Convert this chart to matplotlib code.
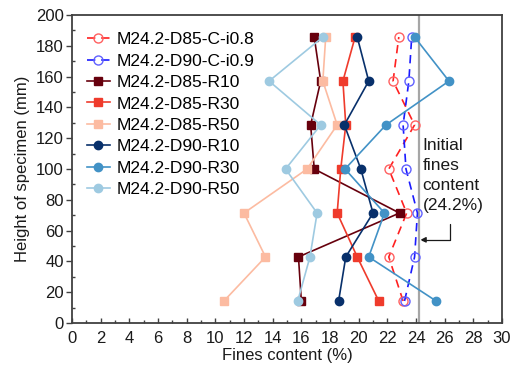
import matplotlib
matplotlib.use("Agg")
import matplotlib.pyplot as plt
from matplotlib.ticker import MultipleLocator

plt.rcParams['font.family'] = ['Liberation Sans', 'DejaVu Sans']

heights = [14.3, 42.9, 71.4, 100.0, 128.6, 157.1, 185.7]

d85_c = [23.1, 22.1, 23.35, 22.1, 23.9, 22.4, 22.8]
d90_c = [23.2, 23.9, 24.1, 23.3, 23.1, 23.5, 23.7]
d85_r10 = [16.0, 15.8, 22.85, 16.9, 16.65, 17.35, 16.9]
d85_r30 = [21.4, 19.9, 18.5, 18.75, 19.1, 18.9, 19.75]
d85_r50 = [10.6, 13.5, 12.0, 16.4, 18.5, 17.5, 17.7]
d90_r10 = [18.6, 19.1, 21.0, 20.15, 19.0, 20.7, 19.9]
d90_r30 = [25.4, 20.7, 21.8, 19.05, 21.9, 26.3, 23.9]
d90_r50 = [15.75, 16.6, 17.1, 14.9, 17.35, 13.75, 17.5]

initial_fines = 24.2

fig = plt.figure(figsize=(5.16, 3.67), dpi=100)
ax = fig.add_axes([0.1395, 0.1199, 0.8334, 0.8392])

lw = 1.2
ax.plot(d85_c, heights, ls=(0, (5, 3.5)), color='#ff2020', lw=lw, marker='o', ms=6.5,
        mfc='none', mec='#ff6060', mew=1.0, label='M24.2-D85-C-i0.8')
ax.plot(d90_c, heights, ls=(0, (5, 3.5)), color='#1a1aff', lw=lw, marker='o', ms=6.5,
        mfc='none', mec='#6060ff', mew=1.0, label='M24.2-D90-C-i0.9')
ax.plot(d85_r10, heights, color='#67000d', lw=lw, marker='s', ms=6, label='M24.2-D85-R10')
ax.plot(d85_r30, heights, color='#ef3b2c', lw=lw, marker='s', ms=6, label='M24.2-D85-R30')
ax.plot(d85_r50, heights, color='#fcbba1', lw=lw, marker='s', ms=6, label='M24.2-D85-R50')
ax.plot(d90_r10, heights, color='#08306b', lw=lw, marker='o', ms=6, label='M24.2-D90-R10')
ax.plot(d90_r30, heights, color='#4292c6', lw=lw, marker='o', ms=6, label='M24.2-D90-R30')
ax.plot(d90_r50, heights, color='#9ecae1', lw=lw, marker='o', ms=6, label='M24.2-D90-R50')

ax.axvline(initial_fines, color='#a6a6a6', lw=1.6, zorder=0)

ax.set_xlim(0, 30)
ax.set_ylim(0, 200)
ax.xaxis.set_major_locator(MultipleLocator(2))
ax.xaxis.set_minor_locator(MultipleLocator(1))
ax.yaxis.set_major_locator(MultipleLocator(20))
ax.yaxis.set_minor_locator(MultipleLocator(10))
ax.tick_params(which='both', colors='#404040', labelcolor='#1a1a1a',
               labelsize=12, top=False, right=False, width=1.0)
ax.tick_params(axis='x', which='major', direction='in', length=3.6, pad=6)
ax.tick_params(axis='x', which='minor', direction='in', length=2.0)
ax.tick_params(axis='y', which='major', direction='out', length=4.5, pad=1.5)
ax.tick_params(axis='y', which='minor', direction='in', length=2.4)
for s in ax.spines.values():
    s.set_color('#404040')
    s.set_linewidth(1.3)

ax.set_xlabel('Fines content (%)', fontsize=12, color='#1a1a1a', labelpad=1.5)
ax.set_ylabel('Height of specimen (mm)', fontsize=12, color='#1a1a1a', labelpad=4)

ax.text(24.45, 120, 'Initial\nfines\ncontent\n(24.2%)', fontsize=12.5, color='#1a1a1a',
        va='top', ha='left', linespacing=1.4)
ax.annotate('', xy=(24.3, 54), xytext=(26.4, 64.5),
            arrowprops=dict(arrowstyle='-|>', color='#1a1a1a', lw=0.9,
                            connectionstyle='angle,angleA=90,angleB=0,rad=0',
                            shrinkA=0, shrinkB=0, mutation_scale=8))

ax.legend(loc='upper left', frameon=False, fontsize=12.5, handlelength=1.35,
          handletextpad=0.35, labelspacing=0.36, borderaxespad=0.2,
          bbox_to_anchor=(0.01, 0.978))

fig.savefig('out.png', dpi=100)
